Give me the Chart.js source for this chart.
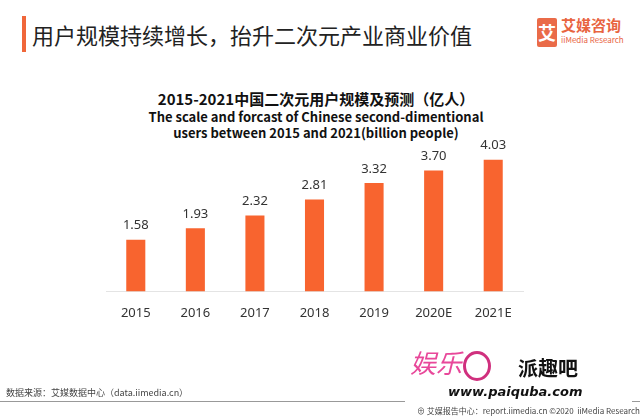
<!DOCTYPE html>
<html><head><meta charset="utf-8">
<script src="https://cdn.jsdelivr.net/npm/chart.js@4"></script>
<style>
html,body{margin:0;padding:0;background:#fff;}
body{width:640px;height:416px;position:relative;overflow:hidden;font-family:"Noto Sans CJK SC","Noto Sans",sans-serif;}
.abs{position:absolute;white-space:nowrap;}
#wrap{position:absolute;left:0;top:0;width:640px;height:416px;}
</style></head><body>
<div class="abs" style="left:22px;top:16px;width:4px;height:36px;background:#f0673a;"></div>
<div class="abs" style="left:32px;top:19px;font-size:22px;line-height:30px;color:#222;">用户规模持续增长，抬升二次元产业商业价值</div>
<div class="abs" style="left:537px;top:18px;width:20px;height:29px;background:#ea6b48;border-radius:2px;color:#fff;font-size:18px;font-weight:bold;line-height:29px;text-align:center;">艾</div>
<div class="abs" style="left:561px;top:15px;font-size:15px;font-weight:bold;color:#e8643f;line-height:20px;">艾媒咨询</div>
<div class="abs" style="left:561px;top:34px;font-size:8px;color:#e8643f;line-height:12px;">iiMedia Research</div>

<div class="abs" style="left:0;top:89px;width:632px;text-align:center;font-size:15px;font-weight:bold;color:#111;line-height:20px;">2015-2021中国二次元用户规模及预测（亿人）</div>
<div class="abs" style="left:0;top:109px;width:632px;text-align:center;font-size:13px;font-weight:600;color:#111;line-height:16px;">The scale and forcast of Chinese second-dimentional<br>users between 2015 and 2021(billion people)</div>

<div id="wrap"><canvas id="c" width="640" height="416"></canvas></div>

<div class="abs" style="left:410px;top:340px;font-size:26px;color:#e8489a;line-height:44px;font-style:italic;">娱乐<span style="display:inline-block;width:22px;height:24px;border:3px solid #d0307e;border-radius:50%;vertical-align:middle;margin-left:1px;"></span></div>
<div class="abs" style="left:518px;top:356px;font-size:20px;font-weight:bold;color:#111;line-height:24px;">派趣吧</div>
<div class="abs" style="left:448px;top:384px;font-size:13px;font-weight:bold;font-style:italic;color:#111;line-height:16px;font-family:'DejaVu Sans',sans-serif;">www.paiquba.com</div>

<div class="abs" style="left:6px;top:386px;font-size:9px;color:#444;line-height:13px;">数据来源：艾媒数据中心（data.iimedia.cn）</div>
<div class="abs" style="left:0;top:401px;width:405px;height:1px;background:#999;"></div>
<div class="abs" style="left:632px;top:401px;width:8px;height:1px;background:#999;"></div>
<div class="abs" style="left:417px;top:404px;font-size:8px;color:#444;line-height:13px;">⊕ 艾媒报告中心：report.iimedia.cn ©2020&nbsp; iiMedia Research Inc</div>

<script>
const categories = ["2015","2016","2017","2018","2019","2020E","2021E"];
const users = [1.58,1.93,2.32,2.81,3.32,3.70,4.03];

const valueLabels = {
  id:'valueLabels',
  afterDatasetsDraw(chart){
    const ctx = chart.ctx;
    const meta = chart.getDatasetMeta(0);
    ctx.save();
    ctx.font = '13px "Noto Sans","Open Sans",sans-serif';
    ctx.fillStyle = '#333';
    ctx.textAlign = 'center';
    ctx.textBaseline = 'middle';
    meta.data.forEach((bar,i)=>{
      ctx.fillText(users[i].toFixed(2), bar.x, bar.y - 14);
    });
    ctx.restore();
  }
};

new Chart(document.getElementById('c'),{
  type:'bar',
  data:{labels:categories,datasets:[{data:users,backgroundColor:'#f8642f',barPercentage:0.64,categoryPercentage:0.5}]},
  options:{
    responsive:false,animation:false,
    layout:{padding:{left:106,right:117,top:128,bottom:81}},
    plugins:{legend:{display:false},title:{display:false},tooltip:{enabled:false}},
    scales:{
      y:{display:false,min:0,max:5},
      x:{grid:{display:false,drawTicks:false},border:{display:true,color:'#e4e4e4',width:1},
         ticks:{color:'#333',padding:14,font:{size:13,family:'"Noto Sans","Open Sans",sans-serif'}}}
    }
  },
  plugins:[valueLabels]
});
</script>
</body></html>
